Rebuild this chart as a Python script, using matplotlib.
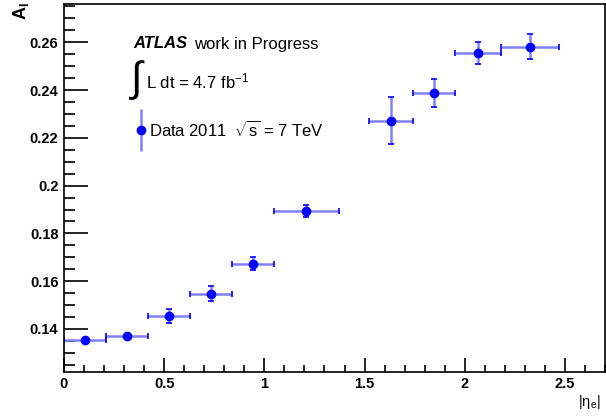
import numpy as np
import matplotlib
matplotlib.use("Agg")
import matplotlib.pyplot as plt
from matplotlib.ticker import MultipleLocator

plt.rcParams['font.family'] = ['Liberation Sans', 'DejaVu Sans']
plt.rcParams['mathtext.fontset'] = 'custom'
plt.rcParams['mathtext.rm'] = 'Liberation Sans'
plt.rcParams['mathtext.it'] = 'Liberation Sans:italic'
plt.rcParams['mathtext.bf'] = 'Liberation Sans:bold'

# eta bins (crack 1.37-1.52 excluded)
eta_lo = [0.0, 0.21, 0.42, 0.63, 0.84, 1.05, 1.52, 1.74, 1.95, 2.18]
eta_hi = [0.21, 0.42, 0.63, 0.84, 1.05, 1.37, 1.74, 1.95, 2.18, 2.47]
asym = [0.1356, 0.1372, 0.1455, 0.1548, 0.1674, 0.1894, 0.2272, 0.2388, 0.2554, 0.2582]
asym_err = [0.0008, 0.0008, 0.0029, 0.0030, 0.0028, 0.0024, 0.0099, 0.0059, 0.0045, 0.0054]

eta_lo = np.array(eta_lo)
eta_hi = np.array(eta_hi)
x = (eta_lo + eta_hi) / 2
xerr = (eta_hi - eta_lo) / 2

fig = plt.figure(figsize=(6.06, 4.17), dpi=100)
ax = fig.add_axes([64 / 606, 45 / 417, 541 / 606, 368 / 417])

light = '#8080ff'
dl, caps, bars = ax.errorbar(x, asym, xerr=xerr, yerr=asym_err, fmt='o', color='#0000ff',
                             ms=6, ecolor=light, elinewidth=1.8, capsize=2.2, capthick=1.2)
for c in caps:
    c.set_markeredgecolor('#0000ff')
    c.set_markerfacecolor('#0000ff')

ax.set_xlim(0, 2.7)
ax.set_ylim(0.122, 0.276)
ax.xaxis.set_major_locator(MultipleLocator(0.5))
ax.xaxis.set_minor_locator(MultipleLocator(0.1))
ax.yaxis.set_major_locator(MultipleLocator(0.02))
ax.yaxis.set_minor_locator(MultipleLocator(0.005))
ax.tick_params(which='both', direction='in', top=False, right=False, width=1.2)
ax.tick_params(axis='y', which='major', length=17)
ax.tick_params(axis='y', which='minor', length=8)
ax.tick_params(axis='x', which='major', length=10)
ax.tick_params(axis='x', which='minor', length=5)
ax.tick_params(labelsize=10.5)
ax.tick_params(axis='y', pad=4)
for lab in ax.get_xticklabels() + ax.get_yticklabels():
    lab.set_fontweight('bold')
ax.yaxis.set_major_formatter(matplotlib.ticker.FuncFormatter(lambda v, p: f'{v:.2f}'.rstrip('0')))
ax.xaxis.set_major_formatter(matplotlib.ticker.FuncFormatter(
    lambda v, p: '0' if v == 0 else (f'{v:g}')))
for s in ax.spines.values():
    s.set_linewidth(1.2)

# axis titles
fig.text(11 / 606, 415 / 417, r'$\mathbf{A_l}$', rotation=90, ha='left', va='top', fontsize=13)
fig.text(601 / 606, 6 / 417, r'|η$_\mathrm{e}$|', ha='right', va='bottom', fontsize=10.5)

# labels
fs = 12
fig.text(133 / 606, (417 - 44) / 417, 'ATLAS', fontsize=fs, fontweight='bold',
         fontstyle='italic', va='center')
fig.text(194 / 606, (417 - 44) / 417, 'work in Progress', fontsize=fs, va='center')
fig.text(129 / 606, (417 - 80) / 417, r'$\int$', fontsize=30, va='center')
fig.text(146 / 606, (417 - 81) / 417, r'L dt = 4.7 fb$^{-1}$', fontsize=fs, va='center')
ax.errorbar([(141 - 64) / 541], [(372 - 130) / 368], yerr=[20.5 / 368], fmt='o', color='#0000ff',
            ms=6, ecolor=light, elinewidth=1.8, transform=ax.transAxes, clip_on=False)
fig.text(149 / 606, (417 - 130) / 417, r'Data 2011  $\sqrt{\mathrm{s}}$ = 7 TeV', fontsize=fs,
         va='center')

fig.savefig('out.png', dpi=100)
